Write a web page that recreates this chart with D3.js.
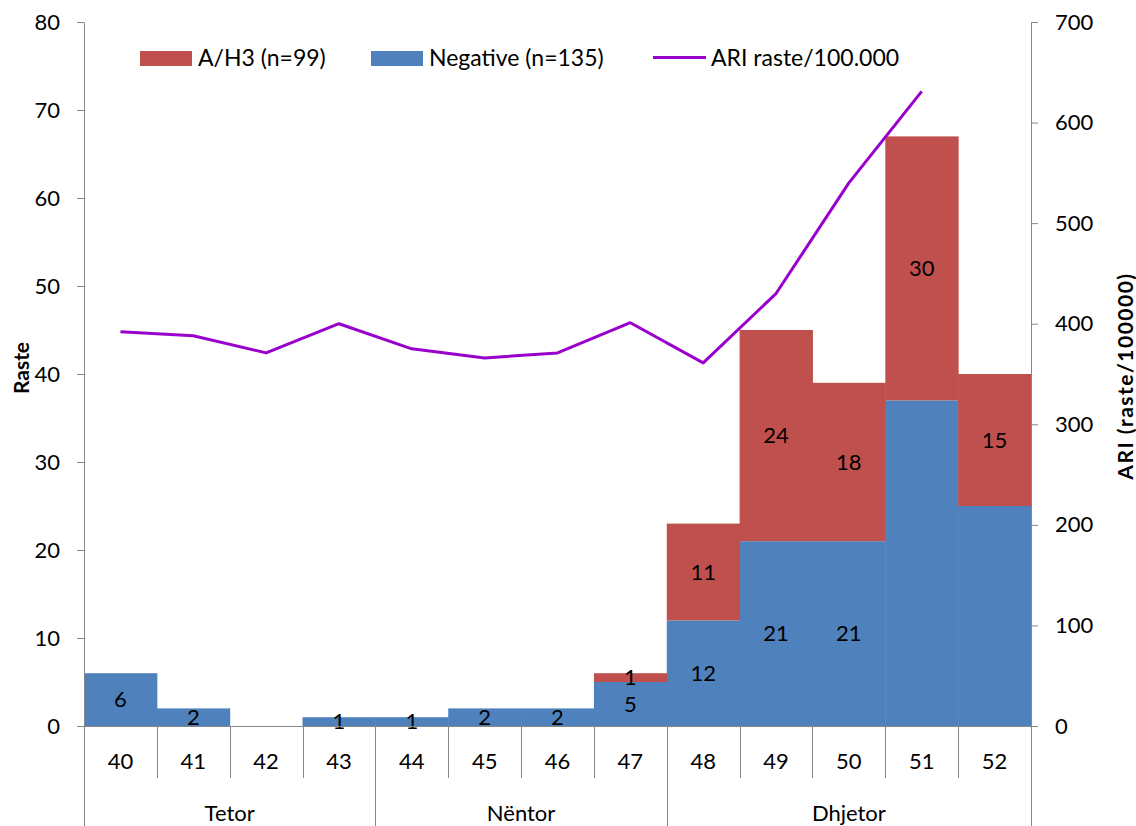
<!DOCTYPE html>
<html>
<head>
<meta charset="utf-8">
<script src="https://cdn.jsdelivr.net/npm/d3@7"></script>
<style>
  body { margin: 0; background: #fff; }
  text { font-family: Lato, "Open Sans", sans-serif; fill: #000; }
</style>
</head>
<body>
<div id="chart"></div>
<script>
// data
const weeks = ["40", "41", "42", "43", "44", "45", "46", "47", "48", "49", "50", "51", "52"];
const negative = [6, 2, 0, 1, 1, 2, 2, 5, 12, 21, 21, 37, 25];
const ah3 = [0, 0, 0, 0, 0, 0, 0, 1, 11, 24, 18, 30, 15];
const ari = [392, 388, 371, 400, 375, 366, 371, 401, 361, 430, 540, 631, null];
// labels that are drawn on the bars (Excel hid some of them)
const negLabelShown = [true, true, false, true, true, true, true, true, true, true, true, false, false];
const months = [
  { name: "Tetor", from: "40", to: "43" },
  { name: "Nëntor", from: "44", to: "47" },
  { name: "Dhjetor", from: "48", to: "52" }
];
const leftTicks = [0, 10, 20, 30, 40, 50, 60, 70, 80];
const rightTicks = [0, 100, 200, 300, 400, 500, 600, 700];
const seriesNames = ["A/H3 (n=99)", "Negative (n=135)", "ARI raste/100.000"];

const W = 1136, H = 826;
const plotL = 84, plotR = 1031, plotT = 22, plotB = 726;
const red = "#C0504D", blue = "#4F81BD", purple = "#9900CC", grey = "#868686";
const fs = 22;

const svg = d3.select("#chart").append("svg").attr("width", W).attr("height", H);

const x = d3.scaleBand().domain(weeks).range([plotL, plotR]).padding(0);
const y = d3.scaleLinear().domain([0, 80]).range([plotB, plotT]);
const y2 = d3.scaleLinear().domain([0, 700]).range([plotB, plotT]);

const rows = weeks.map((w, i) => ({ week: w, negative: negative[i], ah3: ah3[i], i: i }));
const stacked = d3.stack().keys(["negative", "ah3"])(rows);
const colors = { negative: blue, ah3: red };

// bars
svg.append("g").selectAll("g")
  .data(stacked)
  .join("g")
  .attr("fill", d => colors[d.key])
  .selectAll("rect")
  .data(d => d)
  .join("rect")
  .attr("x", d => x(d.data.week))
  .attr("width", x.bandwidth() + 0.5)
  .attr("y", d => y(d[1]))
  .attr("height", d => y(d[0]) - y(d[1]));

// bar labels
const labelG = svg.append("g").attr("font-size", fs).attr("text-anchor", "middle");
stacked.forEach(s => {
  s.forEach(d => {
    const v = d[1] - d[0];
    if (v <= 0) return;
    if (s.key === "negative" && !negLabelShown[d.data.i]) return;
    labelG.append("text")
      .attr("x", x(d.data.week) + x.bandwidth() / 2)
      .attr("y", y((d[0] + d[1]) / 2))
      .attr("dy", "0.35em")
      .text(v);
  });
});

// ARI line
const line = d3.line()
  .defined(d => d != null)
  .x((d, i) => x(weeks[i]) + x.bandwidth() / 2)
  .y(d => y2(d));
svg.append("path")
  .datum(ari)
  .attr("fill", "none")
  .attr("stroke", purple)
  .attr("stroke-width", 3)
  .attr("stroke-linejoin", "round")
  .attr("d", line);

// left axis
const yAxis = svg.append("g")
  .attr("transform", "translate(" + plotL + ",0)")
  .call(d3.axisLeft(y).tickValues(leftTicks).tickSize(7).tickSizeOuter(0).tickPadding(17));
yAxis.selectAll("text").attr("font-size", fs);

// right axis
const yAxis2 = svg.append("g")
  .attr("transform", "translate(" + plotR + ",0)")
  .call(d3.axisRight(y2).tickValues(rightTicks).tickSize(7).tickSizeOuter(0).tickPadding(17));
yAxis2.selectAll("text").attr("font-size", fs);

svg.selectAll(".domain, .tick line").attr("stroke", grey);

// category axis
const xg = svg.append("g");
xg.append("line")
  .attr("x1", plotL).attr("x2", plotR)
  .attr("y1", plotB + 0.5).attr("y2", plotB + 0.5)
  .attr("stroke", grey);
const bounds = weeks.map(w => x(w)).concat([plotR]);
const monthBounds = new Set([x("40"), x("44"), x("48"), plotR]);
xg.selectAll("line.sep")
  .data(bounds)
  .join("line")
  .attr("class", "sep")
  .attr("x1", d => Math.round(d) + 0.5).attr("x2", d => Math.round(d) + 0.5)
  .attr("y1", plotB)
  .attr("y2", d => monthBounds.has(d) ? H : 778)
  .attr("stroke", grey);
xg.selectAll("text.wk")
  .data(weeks)
  .join("text")
  .attr("class", "wk")
  .attr("x", d => x(d) + x.bandwidth() / 2)
  .attr("y", 769)
  .attr("text-anchor", "middle")
  .attr("font-size", fs)
  .text(d => d);
xg.selectAll("text.mo")
  .data(months)
  .join("text")
  .attr("class", "mo")
  .attr("x", d => (x(d.from) + x(d.to) + x.bandwidth()) / 2)
  .attr("y", 821)
  .attr("text-anchor", "middle")
  .attr("font-size", fs)
  .text(d => d.name);

// axis titles
svg.append("text")
  .attr("transform", "translate(29,368) rotate(-90)")
  .attr("text-anchor", "middle")
  .attr("font-size", 21)
  .attr("font-weight", "bold")
  .text("Raste");
svg.append("text")
  .attr("transform", "translate(1133,376) rotate(-90)")
  .attr("text-anchor", "middle")
  .attr("font-size", 21)
  .attr("font-weight", "bold")
  .attr("letter-spacing", 1.5)
  .text("ARI (raste/100000)");

// legend
const legend = svg.append("g").attr("font-size", 23);
const legendItems = [
  { name: seriesNames[0], color: red, type: "rect", x: 140 },
  { name: seriesNames[1], color: blue, type: "rect", x: 371 },
  { name: seriesNames[2], color: purple, type: "line", x: 653 }
];
legendItems.forEach(it => {
  if (it.type === "rect") {
    legend.append("rect").attr("x", it.x).attr("y", 51).attr("width", 52).attr("height", 15).attr("fill", it.color);
  } else {
    legend.append("line").attr("x1", it.x).attr("x2", it.x + 53).attr("y1", 57.5).attr("y2", 57.5)
      .attr("stroke", it.color).attr("stroke-width", 3);
  }
  legend.append("text").attr("x", it.x + 58).attr("y", 66).text(it.name);
});
</script>
</body>
</html>
